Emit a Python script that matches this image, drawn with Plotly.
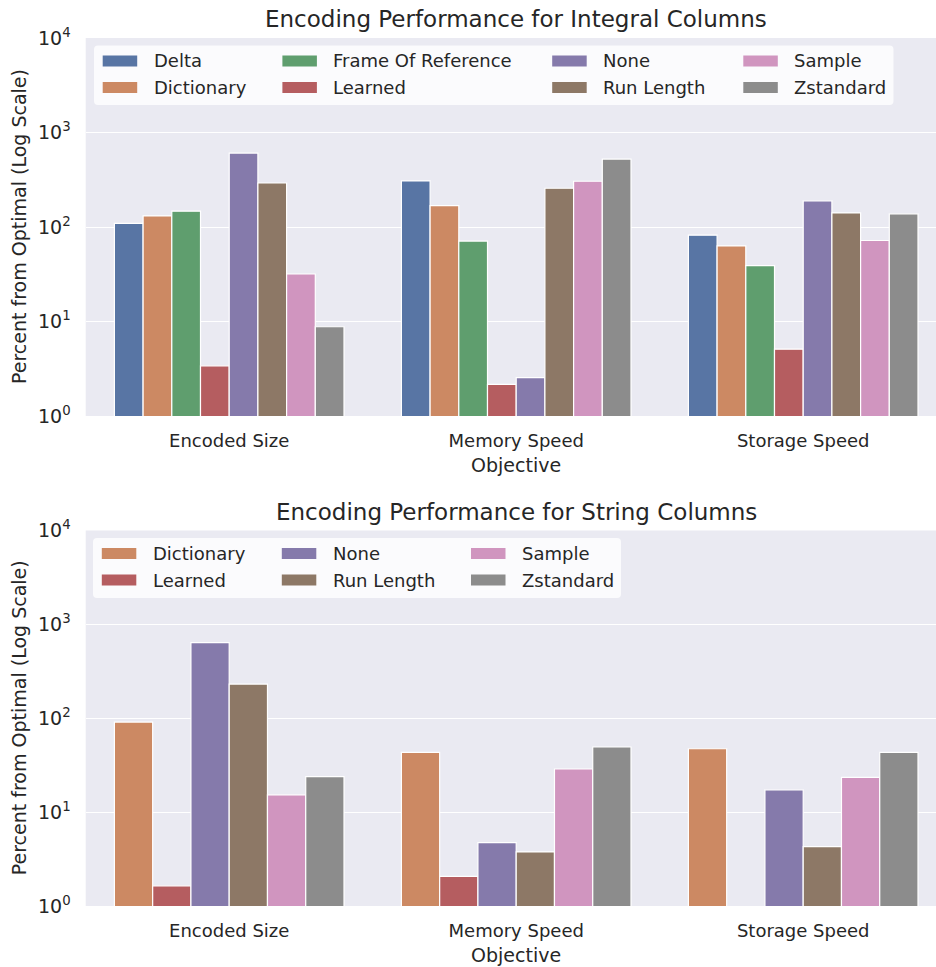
import colorsys
import plotly.graph_objects as go

# ---------------- data ----------------
objectives = ["Encoded Size", "Memory Speed", "Storage Speed"]

int_encodings = ["Delta", "Dictionary", "Frame Of Reference", "Learned",
                 "None", "Run Length", "Sample", "Zstandard"]
int_delta = [109, 307, 82]
int_dictionary = [131, 168, 63]
int_frame_of_reference = [147, 71, 39]
int_learned = [3.4, 2.16, 5.1]
int_none = [605, 2.55, 189]
int_run_length = [292, 257, 141]
int_sample = [31.8, 305, 72]
int_zstandard = [8.8, 523, 138]
int_values = [int_delta, int_dictionary, int_frame_of_reference, int_learned,
              int_none, int_run_length, int_sample, int_zstandard]

str_encodings = ["Dictionary", "Learned", "None", "Run Length", "Sample", "Zstandard"]
str_dictionary = [91, 43.4, 47.3]
str_learned = [1.64, 2.07, None]
str_none = [638, 4.73, 17.3]
str_run_length = [231, 3.77, 4.29]
str_sample = [15.3, 28.8, 23.5]
str_zstandard = [23.9, 49.4, 43.4]
str_values = [str_dictionary, str_learned, str_none, str_run_length,
              str_sample, str_zstandard]

ytick_vals = [1, 10, 100, 1000, 10000]
ytick_text = ["10<sup>0</sup>", "10<sup>1</sup>", "10<sup>2</sup>",
              "10<sup>3</sup>", "10<sup>4</sup>"]

titles = ["Encoding Performance for Integral Columns",
          "Encoding Performance for String Columns"]
y_title = "Percent from Optimal (Log Scale)"
x_title = "Objective"

# ---------------- style ----------------
deep = {"Delta": "#4C72B0", "Dictionary": "#DD8452", "Frame Of Reference": "#55A868",
        "Learned": "#C44E52", "None": "#8172B3", "Run Length": "#937860",
        "Sample": "#DA8BC3", "Zstandard": "#8C8C8C"}


def desat(hexc, prop=0.75):
    r, g, b = (int(hexc[i:i + 2], 16) / 255 for i in (1, 3, 5))
    h, l, s = colorsys.rgb_to_hls(r, g, b)
    r, g, b = colorsys.hls_to_rgb(h, l, s * prop)
    return "#%02x%02x%02x" % (round(r * 255), round(g * 255), round(b * 255))


colors = {k: desat(v) for k, v in deep.items()}

W, H = 936, 967
FONT = "DejaVu Sans"
TXT = "#262626"
BG = "#EAEAF2"


def PX(x):
    return x / W


def PY(y):
    return 1 - y / H


x_left = 85.7
unit = 287.0
xrange_ = [-0.5, -0.5 + (W - x_left) / unit]

top_y = (38.0, 416.0)
bot_y = (530.5, 906.0)

fig = go.Figure()
for enc, vals in zip(int_encodings, int_values):
    fig.add_bar(x=objectives, y=vals, name=enc, marker_color=colors[enc],
                marker_line=dict(color="white", width=1.2), xaxis="x", yaxis="y",
                showlegend=False)
for enc, vals in zip(str_encodings, str_values):
    fig.add_bar(x=objectives, y=vals, name=enc, marker_color=colors[enc],
                marker_line=dict(color="white", width=1.2), xaxis="x2", yaxis="y2",
                showlegend=False)

xcommon = dict(type="category", categoryorder="array", categoryarray=objectives,
               range=xrange_, showgrid=False, zeroline=False, showline=False,
               ticks="", ticklabelstandoff=12,
               tickfont=dict(family=FONT, size=18, color=TXT), automargin=False)
ycommon = dict(type="log", range=[0, 4], tickvals=ytick_vals, ticktext=ytick_text,
               showgrid=True, gridcolor="white", gridwidth=1.4, zeroline=False,
               showline=False, ticks="", ticklabelstandoff=14,
               tickfont=dict(family=FONT, size=19, color=TXT), automargin=False)

fig.update_layout(
    width=W, height=H, margin=dict(l=0, r=0, t=0, b=0),
    paper_bgcolor="white", plot_bgcolor=BG,
    barmode="group", bargap=0.2, bargroupgap=0,
    font=dict(family=FONT, color=TXT),
    xaxis=dict(domain=[PX(x_left), 1], anchor="y", **xcommon),
    yaxis=dict(domain=[PY(top_y[1]), PY(top_y[0])], anchor="x", **ycommon),
    xaxis2=dict(domain=[PX(x_left), 1], anchor="y2", **xcommon),
    yaxis2=dict(domain=[PY(bot_y[1]), PY(bot_y[0])], anchor="x2", **ycommon),
)

annotations = []
shapes = []
# titles
for t, yy in zip(titles, [19, 512]):
    annotations.append(dict(text=t, x=PX(516), y=PY(yy), xref="paper", yref="paper",
                            xanchor="center", yanchor="middle", showarrow=False,
                            font=dict(family=FONT, size=23, color=TXT)))
# axis titles
for yy in [465, 955]:
    annotations.append(dict(text=x_title, x=PX(516), y=PY(yy), xref="paper", yref="paper",
                            xanchor="center", yanchor="middle", showarrow=False,
                            font=dict(family=FONT, size=19, color=TXT)))
for (a, b) in [top_y, bot_y]:
    annotations.append(dict(text=y_title, x=PX(19), y=PY((a + b) / 2), xref="paper",
                            yref="paper", xanchor="center", yanchor="middle",
                            showarrow=False, textangle=-90,
                            font=dict(family=FONT, size=19, color=TXT)))


def rounded(x0, y0, x1, y1, r):
    X0, X1 = PX(x0), PX(x1)
    Y0, Y1 = PY(y0), PY(y1)
    rx, ry = r / W, r / H
    return (f"M{X0 + rx},{Y0} L{X1 - rx},{Y0} Q{X1},{Y0} {X1},{Y0 - ry} "
            f"L{X1},{Y1 + ry} Q{X1},{Y1} {X1 - rx},{Y1} L{X0 + rx},{Y1} "
            f"Q{X0},{Y1} {X0},{Y1 + ry} L{X0},{Y0 - ry} Q{X0},{Y0} {X0 + rx},{Y0} Z")


def legend(names, box, col_x, rows_y, sw_w, sw_h, txt_off, fsize):
    shapes.append(dict(type="path", path=rounded(*box, 4), xref="paper", yref="paper",
                       fillcolor="rgba(255,255,255,0.8)", line=dict(width=0),
                       layer="above"))
    nrows = len(rows_y)
    for i, name in enumerate(names):
        c, r = divmod(i, nrows)
        x0 = col_x[c]
        yc = rows_y[r]
        shapes.append(dict(type="rect", xref="paper", yref="paper",
                           x0=PX(x0), x1=PX(x0 + sw_w),
                           y0=PY(yc + sw_h / 2), y1=PY(yc - sw_h / 2),
                           fillcolor=colors[name], line=dict(width=0), layer="above"))
        annotations.append(dict(text=name, x=PX(x0 + txt_off), y=PY(yc), xref="paper",
                                yref="paper", xanchor="left", yanchor="middle",
                                showarrow=False,
                                font=dict(family=FONT, size=fsize, color=TXT)))


legend(int_encodings, (94.0, 45.5, 893.5, 105.0), [102.7, 282.4, 552.2, 743.3],
       [61.0, 87.5], 34.5, 11, 49, 18)
legend(str_encodings, (93.0, 538.0, 621.0, 598.0), [101.8, 281.8, 471.0],
       [553.5, 580.0], 34.5, 11, 49, 18)

fig.update_layout(annotations=annotations, shapes=shapes)
fig.write_html("out.html",
               config={"displayModeBar": False},
               post_script="document.body.style.margin='0';"
                           "document.body.style.overflow='hidden';")
